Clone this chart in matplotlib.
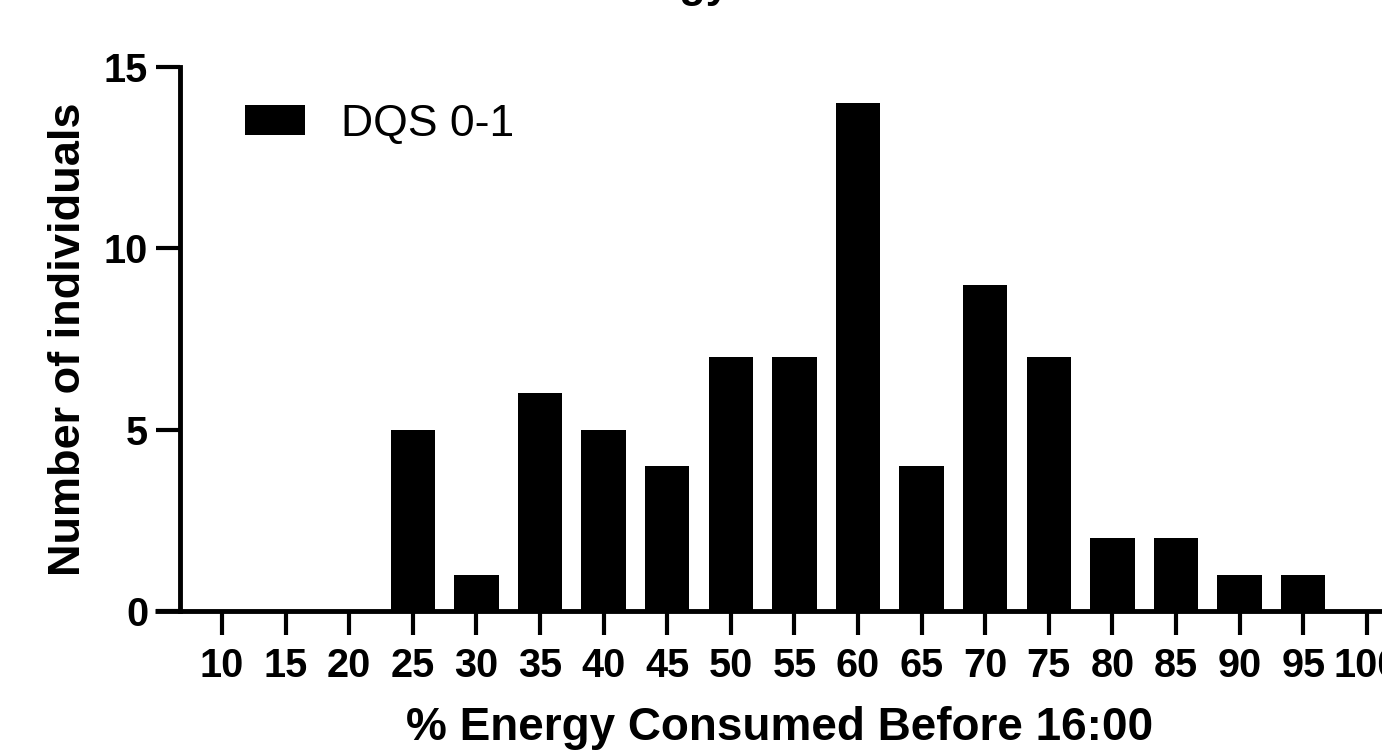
import numpy as np
import matplotlib
matplotlib.use("Agg")
import matplotlib.pyplot as plt

plt.rcParams['font.family'] = ['Liberation Sans', 'DejaVu Sans']

# Data
bins = [10, 15, 20, 25, 30, 35, 40, 45, 50, 55, 60, 65, 70, 75, 80, 85, 90, 95, 100]
counts = [0, 0, 0, 5, 1, 6, 5, 4, 7, 7, 14, 4, 9, 7, 2, 2, 1, 1, 0]
series_name = "DQS 0-1"
x_label = "% Energy Consumed Before 16:00"
y_label = "Number of individuals"
title_text = "Energy"

W, H = 1382, 751
fig = plt.figure(figsize=(W / 100, H / 100), dpi=100)

# axes placed in pixel terms; the right part runs off the picture like the crop
left_px, right_px = 155, 1405
bottom_px, top_px = 611, 67
ax = fig.add_axes([left_px / W, 1 - bottom_px / H,
                   (right_px - left_px) / W, (bottom_px - top_px) / H])

ax.bar(bins, counts, width=3.5, color='black', edgecolor='none', label=series_name)

ax.set_xlim(4.73, 103)
ax.set_ylim(0, 15)

# GraphPad style axes: y axis offset from the start of the x axis
for side in ['top', 'right']:
    ax.spines[side].set_visible(False)
ax.spines['left'].set_position(('data', 6.7))
ax.spines['left'].set_bounds(0, 15)
ax.spines['left'].set_linewidth(3.5)
ax.spines['bottom'].set_linewidth(3.5)
ax.spines['bottom'].set_capstyle('butt')

ax.set_xticks(bins)
ax.set_xticklabels([str(b) for b in bins])
ax.set_yticks([0, 5, 10, 15])
ax.tick_params(axis='both', direction='out', length=17, width=3, labelsize=28.5, colors='black')
ax.tick_params(axis='x', pad=9)
ax.tick_params(axis='y', pad=6)
for lbl in ax.get_xticklabels() + ax.get_yticklabels():
    lbl.set_fontweight('bold')

# x label kept just inside the bottom edge
ax.set_xlabel(x_label, fontsize=33, fontweight='bold', labelpad=15)
ax.set_ylabel(y_label, fontsize=32.5, fontweight='bold', labelpad=11)

ax.legend(loc='center left', bbox_to_anchor=(245 / W, 1 - 124 / H),
          bbox_transform=fig.transFigure, frameon=False, fontsize=32,
          borderpad=0, borderaxespad=0, handlelength=1.35, handleheight=0.65,
          handletextpad=0.82)

# title mostly cut off above the picture
fig.text(730 / W, 1 + 3 / H, title_text, ha='right', va='baseline',
         fontsize=31, fontweight='bold')

fig.savefig("out.png", dpi=100)
